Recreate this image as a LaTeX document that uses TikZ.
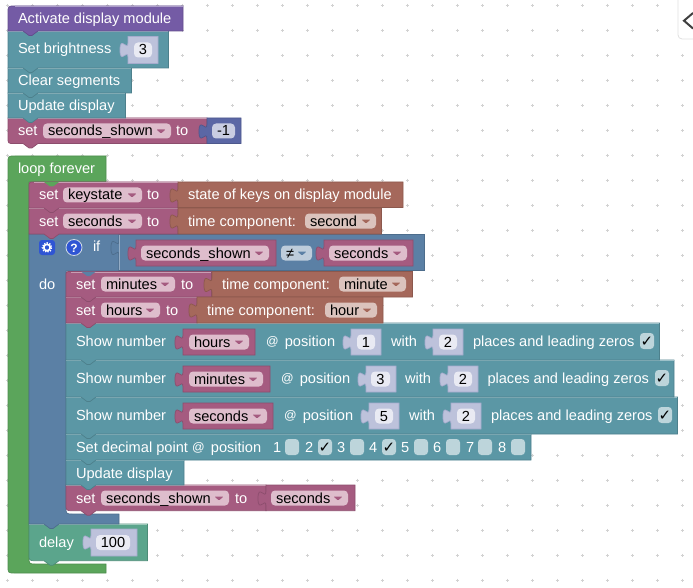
\documentclass[tikz,border=0pt]{standalone}
\usepackage{fontspec}
\setmainfont{Liberation Sans}
\newfontfamily\symf{DejaVu Sans}
\definecolor{cpurple}{HTML}{745BA5}
\definecolor{cteal}{HTML}{5B97A5}
\definecolor{cpink}{HTML}{A55B80}
\definecolor{cbrown}{HTML}{A5685B}
\definecolor{cblue}{HTML}{5B80A5}
\definecolor{cgreen}{HTML}{5BA55B}
\definecolor{cdelay}{HTML}{5BA58C}
\definecolor{cnum}{HTML}{5B67A5}
\definecolor{cshadow}{HTML}{BDC2DB}
\definecolor{cfield}{HTML}{E9EAF3}
\definecolor{cfieldb}{HTML}{C9CDE2}
\definecolor{ddpink}{HTML}{DEBDCC}
\definecolor{ddbrown}{HTML}{DBC3BD}
\definecolor{ddblue}{HTML}{BDCCDB}
\definecolor{ccheck}{HTML}{BDD5DB}
\definecolor{cdot}{HTML}{D2D2D2}
\definecolor{chelp}{HTML}{2F55D4}
\newcounter{nn}
\newcommand\atsign{\makebox[14.8pt][l]{\fontsize{12.4}{16}\selectfont\raisebox{0.6pt}{@}}}
\tikzset{
  lbl/.style={anchor=base west,inner sep=0pt,outer sep=0pt,font=\fontsize{14.6}{16}\selectfont},
  lblc/.style={anchor=base,inner sep=0pt,outer sep=0pt,font=\fontsize{14.6}{16}\selectfont,text=black},
  edge/.style={line width=0.7pt}
}
% tl, bl, x1, y1, x2, y2, colour
\newcommand\stmtblk[7]{%
  \filldraw[edge,fill=#7,draw=#7!85!black]
    (#3,{#4+#1}) .. controls (#3,#4) .. ({#3+#1},#4) -- (#5,#4) -- (#5,#6)
    -- ({#3+30},#6) -- ({#3+24},{#6+4.5}) -- ({#3+21},{#6+4.5}) -- ({#3+15},#6)
    -- ({#3+#2},#6) .. controls (#3,#6) .. (#3,{#6-#2}) -- cycle;
  \draw[line width=0.7pt,#7!60!white] ({#3+#1},{#4+.5}) -- ({#5-.5},{#4+.5});
}
% x1, y1, x2, y2, fill, stroke
\newcommand\valblk[6]{%
  \filldraw[edge,fill=#5,draw=#6]
    (#1,#2) -- (#3,#2) -- (#3,#4) -- (#1,#4) -- (#1,{#2+21})
    .. controls (#1,{#2+11}) and ({#1-8},{#2+29}) .. ({#1-8},{#2+13.5})
    .. controls ({#1-8},{#2-2}) and (#1,{#2+16}) .. (#1,{#2+6}) -- cycle;
}
% x, y, colour : notch of the parent in the top of the first inner block
\newcommand\notchin[3]{%
  \fill[#3] ({#1+15},#2) -- ({#1+21},{#2+4.5}) -- ({#1+24},{#2+4.5}) -- ({#1+30},#2) -- cycle;
}
\newcommand\txt[3]{%
  \stepcounter{nn}\node[lbl,text=white] (n\arabic{nn}) at (#1,{#2+5}) {#3};
}
\newcommand\dropd[6]{%
  \fill[#5,rounded corners=4pt] (#1,{#3-7.5}) rectangle (#2,{#3+7.5});
  \stepcounter{nn}\node[lbl,text=black] (n\arabic{nn}) at ({#1+5},{#3+5}) {#4};
  \fill[#6,rounded corners=0.8pt] ({#2-14.5},{#3-1.5}) -- ({#2-5.5},{#3-1.5}) -- ({#2-10},{#3+2.5}) -- cycle;
}
% x1, x2, yc, text, fill
\newcommand\numf[5]{%
  \fill[#5,rounded corners=4pt] (#1,{#3-7.5}) rectangle (#2,{#3+7.5});
  \stepcounter{nn}\node[lblc] (n\arabic{nn}) at ({(#1+#2)/2},{#3+5}) {#4};
}
% x1, yc
\newcommand\cbox[2]{%
  \fill[ccheck,rounded corners=3.5pt] (#1,{#2-8}) rectangle ({#1+14},{#2+8});
}
\newcommand\cboxc[2]{%
  \cbox{#1}{#2}
  \stepcounter{nn}\node[anchor=base,inner sep=0pt,text=black,font=\symf\bfseries\fontsize{15}{16}\selectfont] (n\arabic{nn}) at ({#1+7},{#2+5.5}) {✓};
}
\begin{document}
\begin{tikzpicture}[x=1pt,y=-1pt]
\path[use as bounding box] (0,0) rectangle (693,588);
\clip (0,0) rectangle (693,588);
% workspace grid
\foreach \i in {0,...,27}{\foreach \j in {0,...,23}{
  \draw[cdot,line width=0.55pt] ({7.3+25*\i-1.7},{5.3+25*\j}) -- ({7.3+25*\i+1.7},{5.3+25*\j})
    ({7.3+25*\i},{5.3+25*\j-1.7}) -- ({7.3+25*\i},{5.3+25*\j+1.7});
}}
% toolbox toggle
\filldraw[fill=white,draw=black!12,line width=0.8pt,rounded corners=4pt] (678,-6) rectangle (705,39);
\draw[black!75,line width=2pt,line join=miter] (693,13) -- (684,20.7) -- (693,28.5);

% ---- first stack (reverse order so that tabs lie over the next block)
\stmtblk{0}{6}{8}{118}{207}{143.5}{cpink}
\stmtblk{0}{0}{8}{93}{125.5}{118}{cteal}
\stmtblk{0}{0}{8}{68}{131.5}{93}{cteal}
\stmtblk{0}{0}{8}{31}{168.5}{68}{cteal}
\stmtblk{7}{0}{8}{6}{183}{31}{cpurple}
\txt{18}{19}{Activate display module}
\txt{18}{49}{Set brightness}
\valblk{128}{36.5}{158}{63.5}{cshadow}{cnum!55!white}
\numf{134}{152}{50}{3}{cfield}
\txt{18}{81}{Clear segments}
\txt{18}{106}{Update display}
\txt{18}{131}{set}
\dropd{43}{171}{131}{seconds\_shown}{ddpink}{cpink}
\txt{176}{131}{to}
\valblk{207}{118}{241}{143.5}{cnum}{cnum!85!black}
\numf{212}{235}{131}{-1}{cfieldb}

% ---- loop forever
\filldraw[edge,fill=cgreen,draw=cgreen!85!black]
  (8,163) .. controls (8,156) .. (15,156) -- (106,156) -- (106,182) -- (29,182)
  -- (29,557) .. controls (29,564) .. (36,564) -- (106,564) -- (106,573)
  -- (15,573) .. controls (8,573) .. (8,566) -- cycle;
\txt{18}{169}{loop forever}

% delay
\stmtblk{0}{7}{29}{524}{147.5}{560.7}{cdelay}
\txt{39}{542}{delay}
\valblk{91}{529}{137}{556}{cshadow}{cnum!55!white}
\numf{96}{130}{542.5}{100}{cfield}

% if block
\filldraw[edge,fill=cblue,draw=cblue!85!black]
  (29,234) -- (119,234) -- (119,271) -- (66,271) -- (66,507)
  .. controls (66,514) .. (73,514) -- (119,514) -- (119,524)
  -- (59,524) -- (53,528.5) -- (50,528.5) -- (44,524) -- (29,524) -- cycle;
\valblk{119}{234.5}{424.5}{270.5}{cblue}{cblue!85!black}
\draw[line width=0.7pt,cblue!65!white] (119.5,235) -- (119.5,270);
\txt{39}{284}{do}
\txt{93}{246}{if}
% mutator gear
\fill[chelp,rounded corners=3pt] (39,240) rectangle (55,255);
\draw[white,line width=1.6pt] (47,247.5) circle (3.2);
\draw[white,line width=1.4pt,dash pattern=on 1.3pt off 1.3pt] (47,247.5) circle (4.6);
% help
\filldraw[fill=chelp,draw=white!70!cblue,line width=0.8pt] (74,247.5) circle (8);
\stepcounter{nn}\node[anchor=base,inner sep=0pt,text=white,font=\bfseries\fontsize{12}{14}\selectfont] (n\arabic{nn}) at (74,252) {?};
% condition
\valblk{136}{240}{276}{266}{cpink}{cpink!85!black}
\dropd{141}{269}{253}{seconds\_shown}{ddpink}{cpink}
\dropd{281}{312}{253}{≠}{ddblue}{cblue}
\valblk{324}{240}{413}{266}{cpink}{cpink!85!black}
\dropd{329}{407}{253}{seconds}{ddpink}{cpink}

% inner stack, bottom to top
\stmtblk{0}{7}{66}{485}{266}{510.7}{cpink}
\valblk{266}{485}{355}{510.7}{cpink}{cpink!85!black}
\stmtblk{0}{0}{66}{460}{184}{485}{cteal}
\stmtblk{0}{0}{66}{434}{531}{460}{cteal}
\stmtblk{0}{0}{66}{397}{677.5}{434}{cteal}
\stmtblk{0}{0}{66}{360}{674}{397}{cteal}
\stmtblk{0}{0}{66}{323}{659.5}{360}{cteal}
\stmtblk{0}{0}{66}{297}{197}{323}{cpink}
\stmtblk{5}{0}{66}{271.5}{211.5}{297}{cpink}
\notchin{66}{271.5}{cblue}

% set minutes
\txt{76}{284}{set}
\dropd{101}{175}{284}{minutes}{ddpink}{cpink}
\txt{181}{284}{to}
\valblk{212}{271.5}{412.5}{297}{cbrown}{cbrown!85!black}
\txt{222}{284}{time component:}
\dropd{339}{406}{284}{minute}{ddbrown}{cbrown}
% set hours
\txt{76}{310}{set}
\dropd{101}{160}{310}{hours}{ddpink}{cpink}
\txt{166}{310}{to}
\valblk{197}{297}{383}{323}{cbrown}{cbrown!85!black}
\txt{207}{310}{time component:}
\dropd{325}{377}{310}{hour}{ddbrown}{cbrown}
% show number hours
\txt{76}{341}{Show number}
\valblk{183}{329}{255}{355}{cpink}{cpink!85!black}
\dropd{189}{249}{342}{hours}{ddpink}{cpink}
\txt{266}{341}{\atsign{} position}
\valblk{351}{329}{381}{355}{cshadow}{cnum!55!white}
\numf{357}{375}{342}{1}{cfield}
\txt{391}{341}{with}
\valblk{433}{329}{463}{355}{cshadow}{cnum!55!white}
\numf{439}{457}{342}{2}{cfield}
\txt{473}{341}{places and leading zeros}
\cboxc{640}{341}
% show number minutes
\txt{76}{378}{Show number}
\valblk{183}{366}{270}{392}{cpink}{cpink!85!black}
\dropd{189}{263}{379}{minutes}{ddpink}{cpink}
\txt{281}{378}{\atsign{} position}
\valblk{366}{366}{396}{392}{cshadow}{cnum!55!white}
\numf{371}{390}{379}{3}{cfield}
\txt{405}{378}{with}
\valblk{448}{366}{478}{392}{cshadow}{cnum!55!white}
\numf{454}{472}{379}{2}{cfield}
\txt{487.5}{378}{places and leading zeros}
\cboxc{655}{378}
% show number seconds
\txt{76}{415}{Show number}
\valblk{183}{403}{273}{429}{cpink}{cpink!85!black}
\dropd{189}{267}{416}{seconds}{ddpink}{cpink}
\txt{284}{415}{\atsign{} position}
\valblk{369}{403}{399}{429}{cshadow}{cnum!55!white}
\numf{375}{393}{416}{5}{cfield}
\txt{409}{415}{with}
\valblk{451}{403}{481}{429}{cshadow}{cnum!55!white}
\numf{457}{475}{416}{2}{cfield}
\txt{491}{415}{places and leading zeros}
\cboxc{658}{415}
% decimal point
\txt{76}{447}{Set decimal point \atsign{} position}
\txt{273}{447}{1}\cbox{285}{447}
\txt{305}{447}{2}\cboxc{318}{447}
\txt{337}{447}{3}\cbox{350}{447}
\txt{369}{447}{4}\cboxc{382}{447}
\txt{401}{447}{5}\cbox{414}{447}
\txt{433}{447}{6}\cbox{446}{447}
\txt{466}{447}{7}\cbox{478}{447}
\txt{498}{447}{8}\cbox{511}{447}
% update, set
\txt{76}{473}{Update display}
\txt{76}{498}{set}
\dropd{101}{229}{498}{seconds\_shown}{ddpink}{cpink}
\txt{235}{498}{to}
\dropd{271}{348}{498}{seconds}{ddpink}{cpink}

% outer inner-stack top
\stmtblk{0}{0}{29}{208}{178}{234}{cpink}
\stmtblk{5}{0}{29}{182}{178}{208}{cpink}
\notchin{29}{182}{cgreen}
\txt{39}{195}{set}
\dropd{63}{142}{195}{keystate}{ddpink}{cpink}
\txt{147}{195}{to}
\valblk{178}{182}{403}{207.5}{cbrown}{cbrown!85!black}
\txt{188}{195}{state of keys on display module}
\txt{39}{221}{set}
\dropd{63}{142}{221}{seconds}{ddpink}{cpink}
\txt{147}{221}{to}
\valblk{178}{208}{381.5}{234}{cbrown}{cbrown!85!black}
\txt{188}{221}{time component:}
\dropd{305}{376}{221}{second}{ddbrown}{cbrown}
\end{tikzpicture}
\end{document}
